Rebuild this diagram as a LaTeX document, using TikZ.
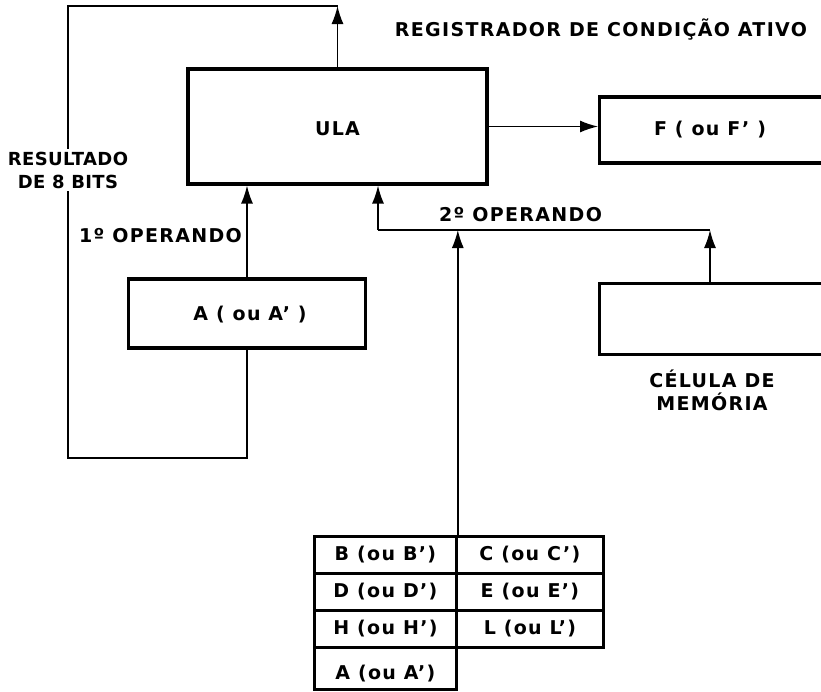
\documentclass[tikz,border=0pt]{standalone}
\usepackage{fontspec}
\setmainfont{DejaVu Sans}[LetterSpace=7]
\usetikzlibrary{arrows.meta,positioning,calc}
\tikzset{
  box/.style={draw, line width=3.2pt, inner sep=0pt},
  cell/.style={draw, line width=2.8pt, inner sep=0pt, minimum height=37pt},
  conn/.style={line width=1.4pt},
  arr/.style={conn, -{Latex[length=18pt,width=12pt]}},
  lbl/.style={font=\fontsize{19}{23}\selectfont\bfseries, inner sep=1pt},
}
\begin{document}
\begin{tikzpicture}[x=1pt,y=-1pt]
\useasboundingbox (0,0) rectangle (821,691);
\clip (0,0) rectangle (821,691);
% boxes
\node[box, minimum width=299pt, minimum height=115pt] (ULA) at (337.5,126.5) {};
\node[lbl] (ulat) at (337.5,129) {ULA};
\node[box, minimum width=240pt, minimum height=66pt, anchor=west] (F) at (598,130) {};
\node[lbl] (ft) at (710,130) {F ( ou F' )};
\node[box, minimum width=237pt, minimum height=69pt] (A) at (247,313.5) {};
\node[lbl] (at) at (250,315) {A ( ou A' )};
\node[box, minimum width=240pt, minimum height=71pt, anchor=north west] (mem) at (598,281.5) {};
\node[lbl, align=center] (memt) at (712,390) {CÉLULA DE\\ MEMÓRIA};
\node[lbl] (reg) at (601,30) {REGISTRADOR DE CONDIÇÃO ATIVO};
% register table
\node[cell, minimum width=142pt, anchor=north west] (B) at (313,535) {};
\node[cell, minimum width=147pt, anchor=north west] (C) at (455,535) {};
\node[cell, minimum width=142pt, anchor=north west] (D) at (313,572) {};
\node[cell, minimum width=147pt, anchor=north west] (E) at (455,572) {};
\node[cell, minimum width=142pt, anchor=north west] (H) at (313,609) {};
\node[cell, minimum width=147pt, anchor=north west] (L) at (455,609) {};
\node[cell, minimum width=142pt, minimum height=42pt, anchor=north west] (A2) at (313,646) {};
\node[lbl] at (B) {B (ou B')};
\node[lbl] at (C) {C (ou C')};
\node[lbl] at (D) {D (ou D')};
\node[lbl] at (E) {E (ou E')};
\node[lbl] at (H) {H (ou H')};
\node[lbl] at (L) {L (ou L')};
\node[lbl] at ($(A2)+(0,5)$) {A (ou A')};
% feedback loop
\coordinate (top) at (337.5,6);
\coordinate (tl) at (68,6);
\coordinate (bl) at (68,458);
\coordinate (br) at (A.south |- bl);
\draw[arr] (ULA.north) -- (top);
\draw[conn] (top) -- (tl) -- (bl) -- (br) -- (A.south);
\node[lbl, fill=white, align=center, inner sep=3pt, font=\fontsize{18}{23}\selectfont\bfseries\addfontfeature{LetterSpace=2}] (res) at (68,170) {RESULTADO\\DE 8 BITS};
% first operand
\draw[arr] (A.north) -- (ULA.south -| A.north);
\node[lbl, anchor=east] (op1) at (243,236) {1º OPERANDO};
% second operand
\coordinate (j1) at (378,230);
\coordinate (j2) at (710,230);
\coordinate (j3) at (B.north east |- j1);
\draw[arr] (j1) -- (ULA.south -| j1);
\draw[conn] (j1) -- (j2);
\draw[arr] (mem.north -| j2) -- (j2);
\draw[arr] (B.north east) -- (j3);
\node[lbl, anchor=west] (op2) at (438,215) {2º OPERANDO};
% flag output
\draw[arr] (ULA.east) -- (ULA.east -| F.west);
\end{tikzpicture}
\end{document}
